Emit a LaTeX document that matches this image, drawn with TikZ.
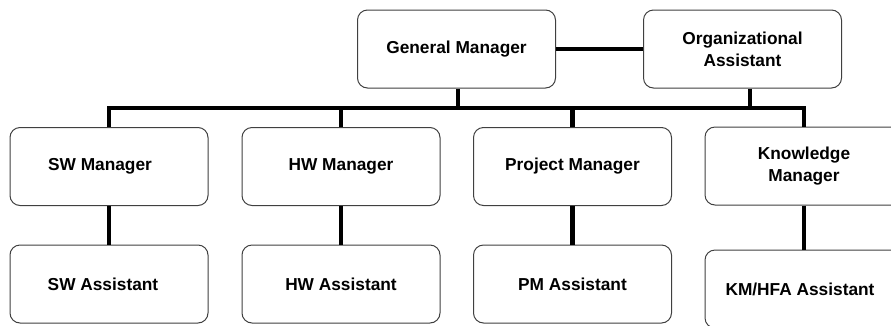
\documentclass[tikz,border=0pt]{standalone}
\usepackage{fontspec}
\setmainfont{Liberation Sans}
\begin{document}
\begin{tikzpicture}[x=1pt,y=-1pt,
  box/.style={draw=black!75, line width=1pt, fill=white, rounded corners=10pt,
    minimum width=198pt, minimum height=78pt, inner sep=0pt, align=center,
    font=\fontsize{17.3}{22}\selectfont\bfseries},
  link/.style={line width=4.5pt, draw=black}]
\useasboundingbox (0,0) rectangle (891,325);
\coordinate (bl) at (108,108);
\node[box] (GM) at (456.5,49) {General Manager};
\node[box] (OA) at (742.5,49) {Organizational\\Assistant};
\node[box] (SW) at (109,166.5) {SW Manager\hspace*{18pt}};
\node[box] (HW) at (341,166.5) {HW Manager};
\node[box] (PM) at (572.5,166.5) {Project Manager};
\node[box] (KM) at (804,166) {Knowledge\\Manager};
\node[box] (SWA) at (109,284) {SW Assistant\hspace*{12pt}};
\node[box] (HWA) at (341,284) {HW Assistant};
\node[box] (PMA) at (572.5,284) {PM Assistant};
\node[box] (KMA) at (804,289) {KM/HFA Assistant\hspace*{8pt}};
\draw[link] (GM.east) -- (OA.west);
\draw[link, line join=miter] (SW.north) -- (SW.north |- bl) -- (KM.north |- bl) -- (KM.north);
\draw[link] (HW.north) -- (HW.north |- bl);
\draw[link] (PM.north) -- (PM.north |- bl);
\draw[link] ([xshift=1.5pt]GM.south) -- ([xshift=1.5pt]GM.south |- bl);
\draw[link] ([xshift=7.5pt]OA.south) -- ([xshift=7.5pt]OA.south |- bl);
\draw[link] (SW.south) -- (SWA.north);
\draw[link] (HW.south) -- (HWA.north);
\draw[link] (PM.south) -- (PMA.north);
\draw[link] (KM.south) -- (KMA.north);
\end{tikzpicture}
\end{document}
